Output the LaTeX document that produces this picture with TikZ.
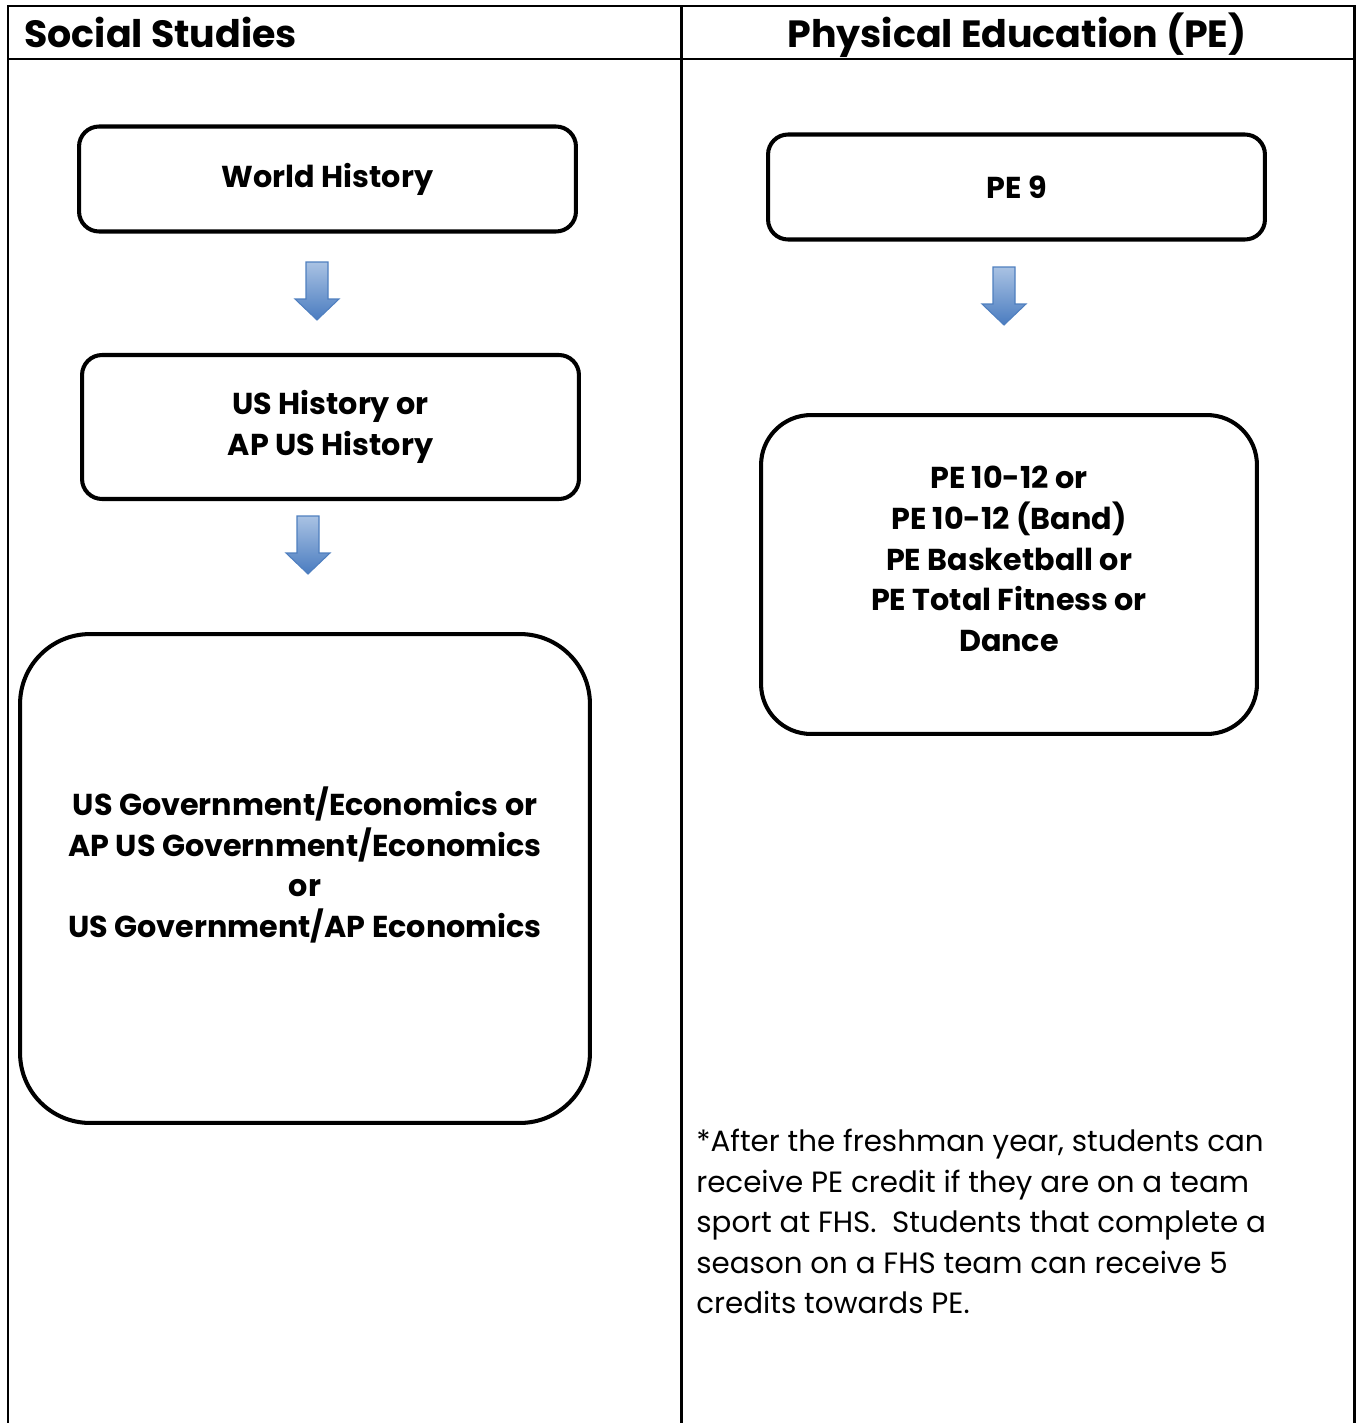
\documentclass[tikz,border=0pt]{standalone}
\usepackage{fontspec}
\setmainfont{Poppins}
\usetikzlibrary{positioning}

\definecolor{arrowtop}{HTML}{A9C2E3}
\definecolor{arrowbot}{HTML}{4A7CC0}
\definecolor{arrowline}{HTML}{4F7FBF}

\tikzset{
  course/.style={draw, line width=2.3pt, rounded corners=0.4cm, align=center,
    font=\fontsize{17.2}{23.2}\selectfont\bfseries},
  coursetext/.style={align=center, font=\fontsize{17.2}{23.2}\selectfont\bfseries},
  header/.style={font=\fontsize{21.6}{26}\selectfont\bfseries},
  note/.style={align=left, inner sep=0pt,
    font=\fontsize{16.7}{23}\selectfont},
  grid/.style={line width=1.7pt},
  dnarrow/.pic={
    \draw[arrowline, line width=0.6pt, top color=arrowtop, bottom color=arrowbot]
      (-11,-29) -- (11,-29) -- (11,8) -- (22,8) -- (0,29) -- (-22,8) -- (-11,8) -- cycle;
  }
}

\begin{document}
\begin{tikzpicture}[x=0.02cm, y=-0.02cm]

		\useasboundingbox (0,0) rectangle (1356,1423);

		% Table
		\draw[grid] (8,1423) -- (8,6) -- (1354,6) -- (1354,1423);
		\draw[grid] (8,59) -- (1354,59);
		\draw[grid] (681,6) -- (681,1423);

		% Headers
		\node[header, anchor=base west, inner sep=0pt] (ssHead) at (24,47) {Social Studies};
		\node[header, anchor=base, inner sep=0pt] (peHead) at (1017,47) {Physical Education (PE)};

		% Social Studies column
		\node[course, minimum width=9.94cm, minimum height=2.1cm] (world) at (327.5,179) {World History};
		\pic at (317,291) {dnarrow};
		\node[course, minimum width=9.94cm, minimum height=2.88cm] (ushist) at (330.5,427) {US History or\\AP US History};
		\pic at (308,545) {dnarrow};
		\node[course, rounded corners=1.4cm, minimum width=11.4cm, minimum height=9.78cm] (gov) at (305,878.5) {};
		\node[coursetext] (govtext) at (305,865) {US Government/Economics or\\AP US Government/Economics\\or\\US Government/AP Economics};

		% PE column
		\node[course, minimum width=9.94cm, minimum height=2.1cm] (pe9) at (1016.5,187) {PE 9};
		\pic at (1004,296) {dnarrow};
		\node[course, rounded corners=1cm, minimum width=9.92cm, minimum height=6.38cm] (peup) at (1009,574.5) {};
		\node[coursetext] (peuptext) at (1009,559) {PE 10-12 or\\PE 10-12 (Band)\\PE Basketball or\\PE Total Fitness or\\Dance};

		% Note
		\node[note, anchor=north west] (credit) at (696,1129) {*After the freshman year, students can\\receive PE credit if they are on a team\\sport at FHS.\ \ Students that complete a\\season on a FHS team can receive 5\\credits towards PE.};

\end{tikzpicture}
\end{document}
